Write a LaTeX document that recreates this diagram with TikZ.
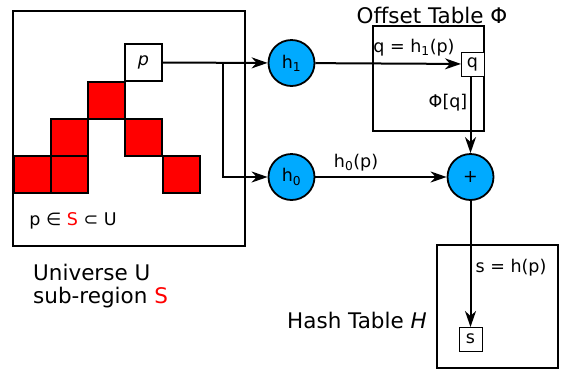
\documentclass[tikz,border=0pt]{standalone}
\usepackage{fontspec}
\setmainfont{DejaVu Sans}
\usetikzlibrary{arrows.meta}
\definecolor{hashblue}{HTML}{00AAFF}

\begin{document}
\begin{tikzpicture}[x=1pt,y=-1pt,
    big text/.style={font=\fontsize{21.5}{23}\selectfont},
    small text/.style={font=\fontsize{17.5}{19}\selectfont},
    flow/.style={-{Stealth[length=16pt,width=11pt,inset=5pt]},line width=2pt},
    table box/.style={draw,line width=2pt,inner sep=0,outer sep=0},
    cell/.style={draw,fill=red,minimum size=37pt,inner sep=0,outer sep=0,line width=1.5pt},
    slot/.style={draw,fill=white,inner sep=0,outer sep=0,line width=1pt,small text},
    hash node/.style={circle,draw,fill=hashblue,minimum size=46pt,inner sep=0,line width=1.8pt,small text}]

            \useasboundingbox (0,0) rectangle (562,373);

            % universe with sub-region S
            \node[table box, minimum width=232pt, minimum height=235pt] (U) at (129,128.5) {};
            \node[cell] (c1) at (106.5,100.5) {};
            \node[cell] (c2) at (69.5,137.5) {};
            \node[cell] (c3) at (143.5,137.5) {};
            \node[cell] (c4) at (32.5,174.5) {};
            \node[cell] (c5) at (69.5,174.5) {};
            \node[cell] (c6) at (181.5,174.5) {};
            \node[slot, minimum size=37pt, line width=1.5pt] (p) at (143.5,62.5) {\textit{p}};
            \node[small text] (member) at (73,221) {p ∈ \textcolor{red}{S} ⊂ U};
            \node[big text, anchor=north west, align=left, inner sep=0] (caption) at (33,264)
                {Universe U\\sub-region \textcolor{red}{S}};

            % hash functions
            \node[hash node] (h1) at (291.5,63) {h\textsubscript{1}};
            \node[hash node] (h0) at (291.5,177) {h\textsubscript{0}};
            \node[hash node] (plus) at (470.5,177) {+};

            % offset table
            \node[table box, minimum width=111pt, minimum height=105pt] (offset) at (428.5,78.5) {};
            \node[big text] (offset title) at (432,15) {Offset Table Φ};
            \node[slot, minimum width=23pt, minimum height=24pt] (q) at (472.5,64) {q};

            % hash table
            \node[table box, minimum width=121pt, minimum height=123pt] (H) at (497.5,306.5) {};
            \node[big text, anchor=east, inner sep=0] (hash title) at (427,320) {Hash Table \textit{H}};
            \node[slot, minimum width=23pt, minimum height=24pt] (s) at (470.5,339) {s};

            \coordinate (branch) at (223,62.5);

            \draw[flow] (p) -- (h1);
            \draw[flow] (branch) |- (h0);
            \draw[flow] (h1) -- (q);
            \draw[flow] (h0) -- (plus);
            \draw[flow] (q.south -| plus.north) -- (plus.north);
            \draw[flow] (plus) -- (s);

            \node[small text] (q label) at (414,48) {q = h\textsubscript{1}(p)};
            \node[small text] (phi label) at (448,103) {Φ[q]};
            \node[small text] (h0 label) at (356,163) {h\textsubscript{0}(p)};
            \node[small text] (s label) at (511,268) {s = h(p)};
        \end{tikzpicture}
\end{document}
